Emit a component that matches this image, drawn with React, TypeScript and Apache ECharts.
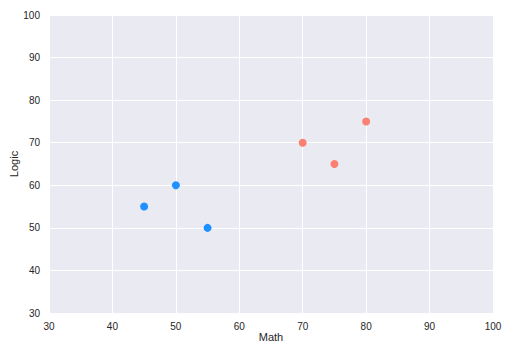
import React, { useEffect, useRef } from "react";
import * as echarts from "echarts";

const groupA = [
  [45, 55],
  [50, 60],
  [55, 50],
];
const groupB = [
  [70, 70],
  [75, 65],
  [80, 75],
];
const xName = "Math";
const yName = "Logic";

export default function App() {
  const ref = useRef<HTMLDivElement>(null);
  useEffect(() => {
    const chart = echarts.init(ref.current!, null, { renderer: "svg" });
    const axisCommon = {
      min: 30,
      max: 100,
      interval: 10,
      axisLine: { show: false },
      axisTick: { show: false },
      splitLine: { show: true, lineStyle: { color: "#ffffff", width: 1 } },
      axisLabel: { color: "#262626", fontSize: 10, fontFamily: "Liberation Sans, Arial, sans-serif" },
      nameTextStyle: { color: "#262626", fontSize: 11, fontFamily: "Liberation Sans, Arial, sans-serif" },
      nameLocation: "middle" as const,
      nameMoveOverlap: false,
    };
    chart.setOption({
      animation: false,
      backgroundColor: "#ffffff",
      grid: {
        left: 49,
        top: 15,
        right: 21,
        bottom: 41,
        show: true,
        backgroundColor: "#EAEAF2",
        borderWidth: 0,
        containLabel: false,
        outerBoundsMode: "none",
      },
      xAxis: { ...axisCommon, type: "value", name: xName, nameGap: 18, axisLabel: { ...axisCommon.axisLabel, margin: 8 } },
      yAxis: { ...axisCommon, type: "value", name: yName, nameGap: 30, axisLabel: { ...axisCommon.axisLabel, margin: 9 } },
      series: [
        {
          type: "scatter",
          data: groupA,
          symbolSize: 8,
          itemStyle: { color: "#1E90FF", opacity: 1 },
        },
        {
          type: "scatter",
          data: groupB,
          symbolSize: 8,
          itemStyle: { color: "#FA8072", opacity: 1 },
        },
      ],
    });
    return () => chart.dispose();
  }, []);
  return (
    <div
      ref={ref}
      style={{ position: "fixed", left: 0, top: 0, width: 514, height: 354 }}
    />
  );
}
